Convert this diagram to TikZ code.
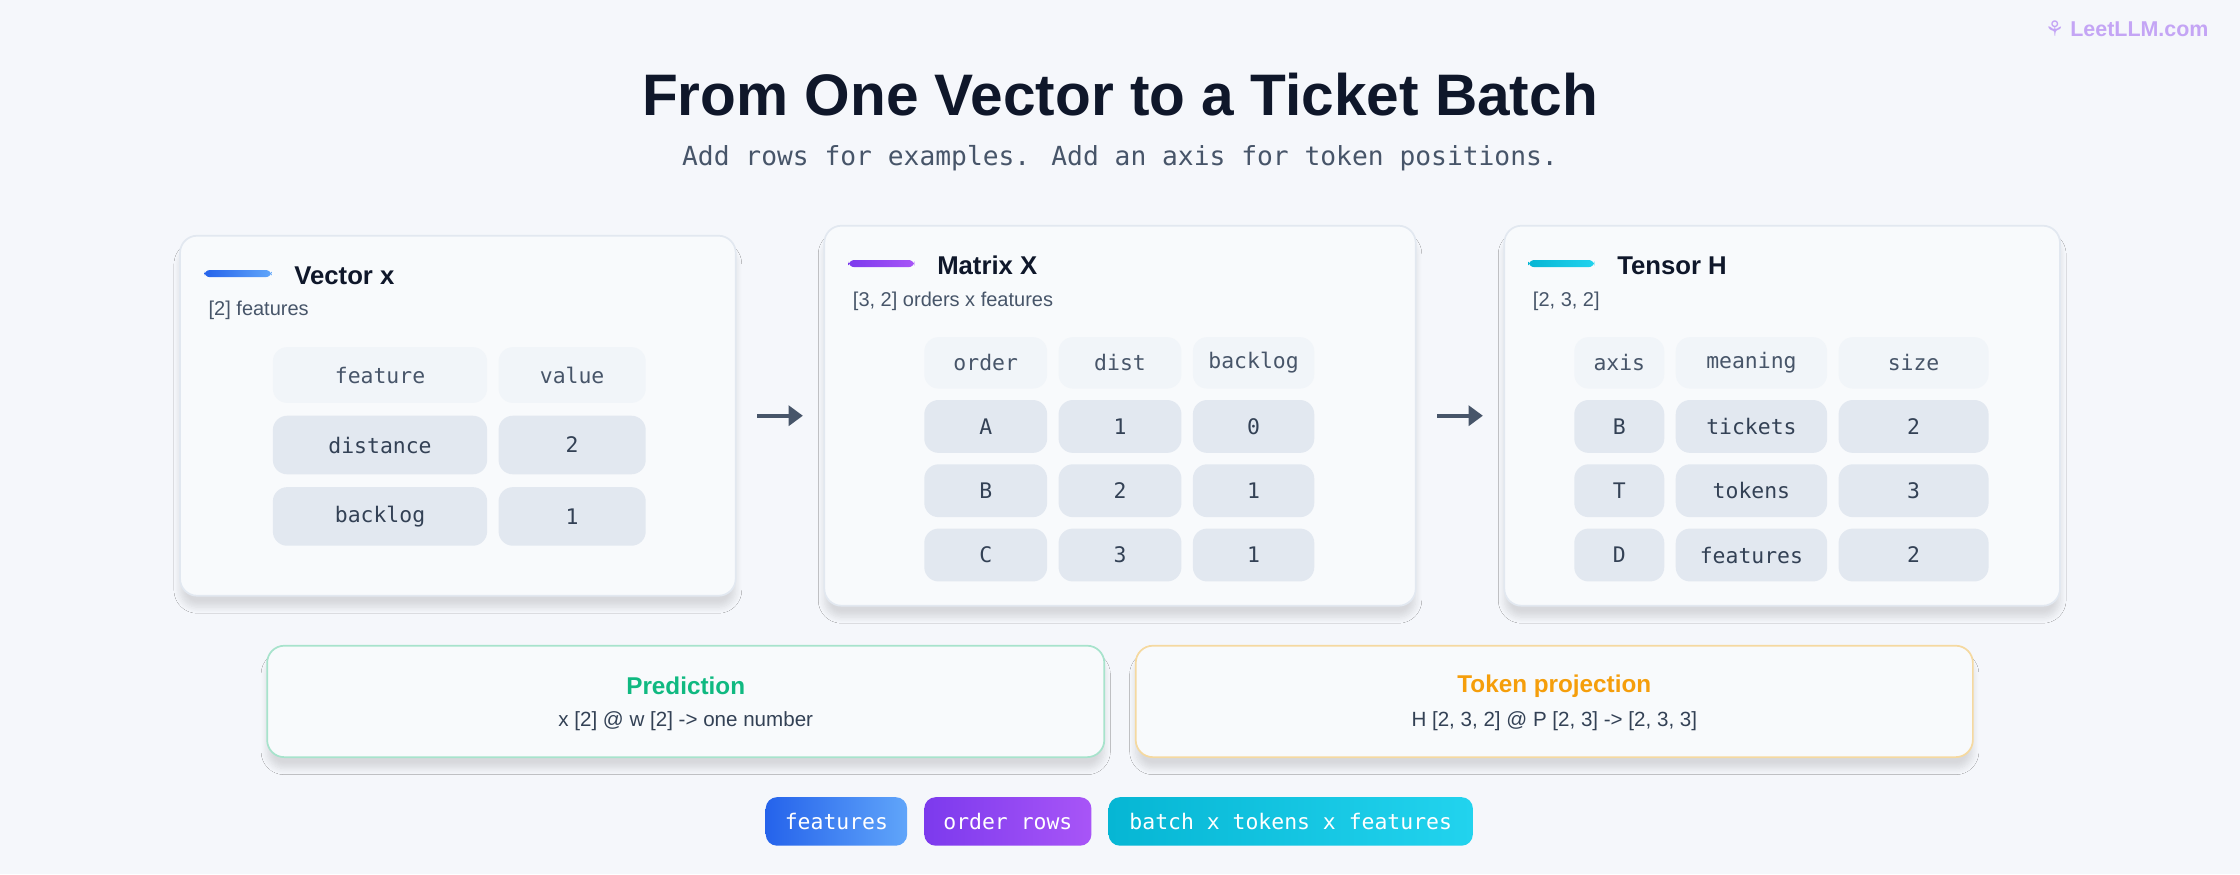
\documentclass[tikz,border=0pt]{standalone}
\usepackage{fontspec}
\setmainfont{Liberation Sans}
\newfontfamily\monof{DejaVu Sans Mono}
\newfontfamily\symf{DejaVu Sans}
\usetikzlibrary{shadows.blur,arrows.meta}
\definecolor{bg}{HTML}{F5F7FB}
\definecolor{card}{HTML}{F8FAFC}
\definecolor{cardline}{HTML}{E2E8F0}
\definecolor{hdr}{HTML}{F1F5F9}
\definecolor{cell}{HTML}{E2E8F0}
\definecolor{ink}{HTML}{0F172A}
\definecolor{txt}{HTML}{334155}
\definecolor{sub}{HTML}{475569}
\definecolor{blueA}{HTML}{2563EB}
\definecolor{blueB}{HTML}{60A5FA}
\definecolor{purA}{HTML}{7C3AED}
\definecolor{purB}{HTML}{A855F7}
\definecolor{cyA}{HTML}{06B6D4}
\definecolor{cyB}{HTML}{22D3EE}
\definecolor{grn}{HTML}{10B981}
\definecolor{grnL}{HTML}{A7E3CC}
\definecolor{org}{HTML}{F59E0B}
\definecolor{orgL}{HTML}{F5D9A0}
\definecolor{logo}{HTML}{C4A5F5}
\tikzset{
 x=0.5pt,y=-0.5pt,
 cardbox/.style={draw=cardline,fill=card,rounded corners=6pt,line width=0.6pt,blur shadow={shadow blur steps=8,shadow xshift=0pt,shadow yshift=-4pt,shadow opacity=12}},
 hcell/.style={fill=hdr,rounded corners=5pt,font=\monof\fontsize{7.5}{9}\selectfont,text=sub},
 bcell/.style={fill=cell,rounded corners=5pt,font=\monof\fontsize{7.5}{9}\selectfont,text=txt},
 ctitle/.style={anchor=west,font=\bfseries\fontsize{9}{11}\selectfont,text=ink},
 csub/.style={anchor=west,font=\fontsize{7}{9}\selectfont,text=sub},
 flow/.style={draw=sub,line width=1.5pt,-{Triangle[length=5pt,width=7pt]}},
 pill/.style={rounded corners=4pt,font=\monof\fontsize{7.5}{9}\selectfont,text=white}
}
\newcommand{\cellat}[6]{\path[#1] (#2,#3) rectangle (#4,#5); \node[#1,fill=none] at ({(#2+#4)/2},{(#3+#5)/2}) {#6};}
\begin{document}
\begin{tikzpicture}
\fill[bg] (0,0) rectangle (1568,612);
\useasboundingbox (0,0) rectangle (1568,612);
\node[text=logo,font=\bfseries\fontsize{7.5}{9}\selectfont,anchor=east] (logo) at (1553,20) {{\symf\char"2698}~LeetLLM.com};
\node[font=\bfseries\fontsize{20.5}{24}\selectfont,text=ink] (title) at (784,66) {From One Vector to a Ticket Batch};
\node[font=\monof\fontsize{9.2}{11}\selectfont,text=sub] (subtitle) at (784,111) {Add rows for examples. Add an axis for token positions.};
% cards
\path[cardbox] (126,165) rectangle (515,417);
\path[cardbox] (577,158) rectangle (991,424);
\path[cardbox] (1053,158) rectangle (1442,424);
\shade[left color=blueA,right color=blueB,rounded corners=2pt] (143,189) rectangle (190,194);
\shade[left color=purA,right color=purB,rounded corners=2pt] (594,182) rectangle (640,187);
\shade[left color=cyA,right color=cyB,rounded corners=2pt] (1070,182) rectangle (1116,187);
\node[ctitle] (tv) at (199,193) {Vector x};
\node[ctitle] (tm) at (649,186) {Matrix X};
\node[ctitle] (tt) at (1125,186) {Tensor H};
\node[csub] (sv) at (139,217) {[2] features};
\node[csub] (sm) at (590,211) {[3, 2] orders x features};
\node[csub] (st) at (1066,211) {[2, 3, 2]};
% vector table
\cellat{hcell}{191}{243}{341}{282}{feature}
\cellat{hcell}{349}{243}{452}{282}{value}
\cellat{bcell}{191}{291}{341}{332}{distance}
\cellat{bcell}{349}{291}{452}{332}{2}
\cellat{bcell}{191}{341}{341}{382}{backlog}
\cellat{bcell}{349}{341}{452}{382}{1}
% matrix table
\cellat{hcell}{647}{236}{733}{272}{order}
\cellat{hcell}{741}{236}{827}{272}{dist}
\cellat{hcell}{835}{236}{920}{272}{backlog}
\cellat{bcell}{647}{280}{733}{317}{A}
\cellat{bcell}{741}{280}{827}{317}{1}
\cellat{bcell}{835}{280}{920}{317}{0}
\cellat{bcell}{647}{325}{733}{362}{B}
\cellat{bcell}{741}{325}{827}{362}{2}
\cellat{bcell}{835}{325}{920}{362}{1}
\cellat{bcell}{647}{370}{733}{407}{C}
\cellat{bcell}{741}{370}{827}{407}{3}
\cellat{bcell}{835}{370}{920}{407}{1}
% tensor table
\cellat{hcell}{1102}{236}{1165}{272}{axis}
\cellat{hcell}{1173}{236}{1279}{272}{meaning}
\cellat{hcell}{1287}{236}{1392}{272}{size}
\cellat{bcell}{1102}{280}{1165}{317}{B}
\cellat{bcell}{1173}{280}{1279}{317}{tickets}
\cellat{bcell}{1287}{280}{1392}{317}{2}
\cellat{bcell}{1102}{325}{1165}{362}{T}
\cellat{bcell}{1173}{325}{1279}{362}{tokens}
\cellat{bcell}{1287}{325}{1392}{362}{3}
\cellat{bcell}{1102}{370}{1165}{407}{D}
\cellat{bcell}{1173}{370}{1279}{407}{features}
\cellat{bcell}{1287}{370}{1392}{407}{2}
% arrows
\coordinate (a1s) at (530,291); \coordinate (a1e) at (562,291);
\coordinate (a2s) at (1006,291); \coordinate (a2e) at (1038,291);
\draw[flow] (a1s) -- (a1e);
\draw[flow] (a2s) -- (a2e);
% bottom boxes
\path[cardbox,draw=grnL,fill=card] (187,452) rectangle (773,530);
\path[cardbox,draw=orgL,fill=card] (795,452) rectangle (1381,530);
\node[font=\bfseries\fontsize{8.5}{10}\selectfont,text=grn] (pt) at (480,480) {Prediction};
\node[font=\fontsize{7.2}{9}\selectfont,text=txt] (ps) at (480,505) {x [2] @ w [2] -> one number};
\node[font=\bfseries\fontsize{8.5}{10}\selectfont,text=org] (tpt) at (1088,480) {Token projection};
\node[font=\fontsize{7.2}{9}\selectfont,text=txt] (tps) at (1088,505) {H [2, 3, 2] @ P [2, 3] -> [2, 3, 3]};
% legend
\shade[pill,left color=blueA,right color=blueB] (536,558) rectangle (635,592);
\shade[pill,left color=purA,right color=purB] (647,558) rectangle (764,592);
\shade[pill,left color=cyA,right color=cyB] (776,558) rectangle (1031,592);
\node[pill] (l1) at (585.5,575) {features};
\node[pill] (l2) at (705.5,575) {order rows};
\node[pill] (l3) at (903.5,575) {batch x tokens x features};
\end{tikzpicture}
\end{document}
